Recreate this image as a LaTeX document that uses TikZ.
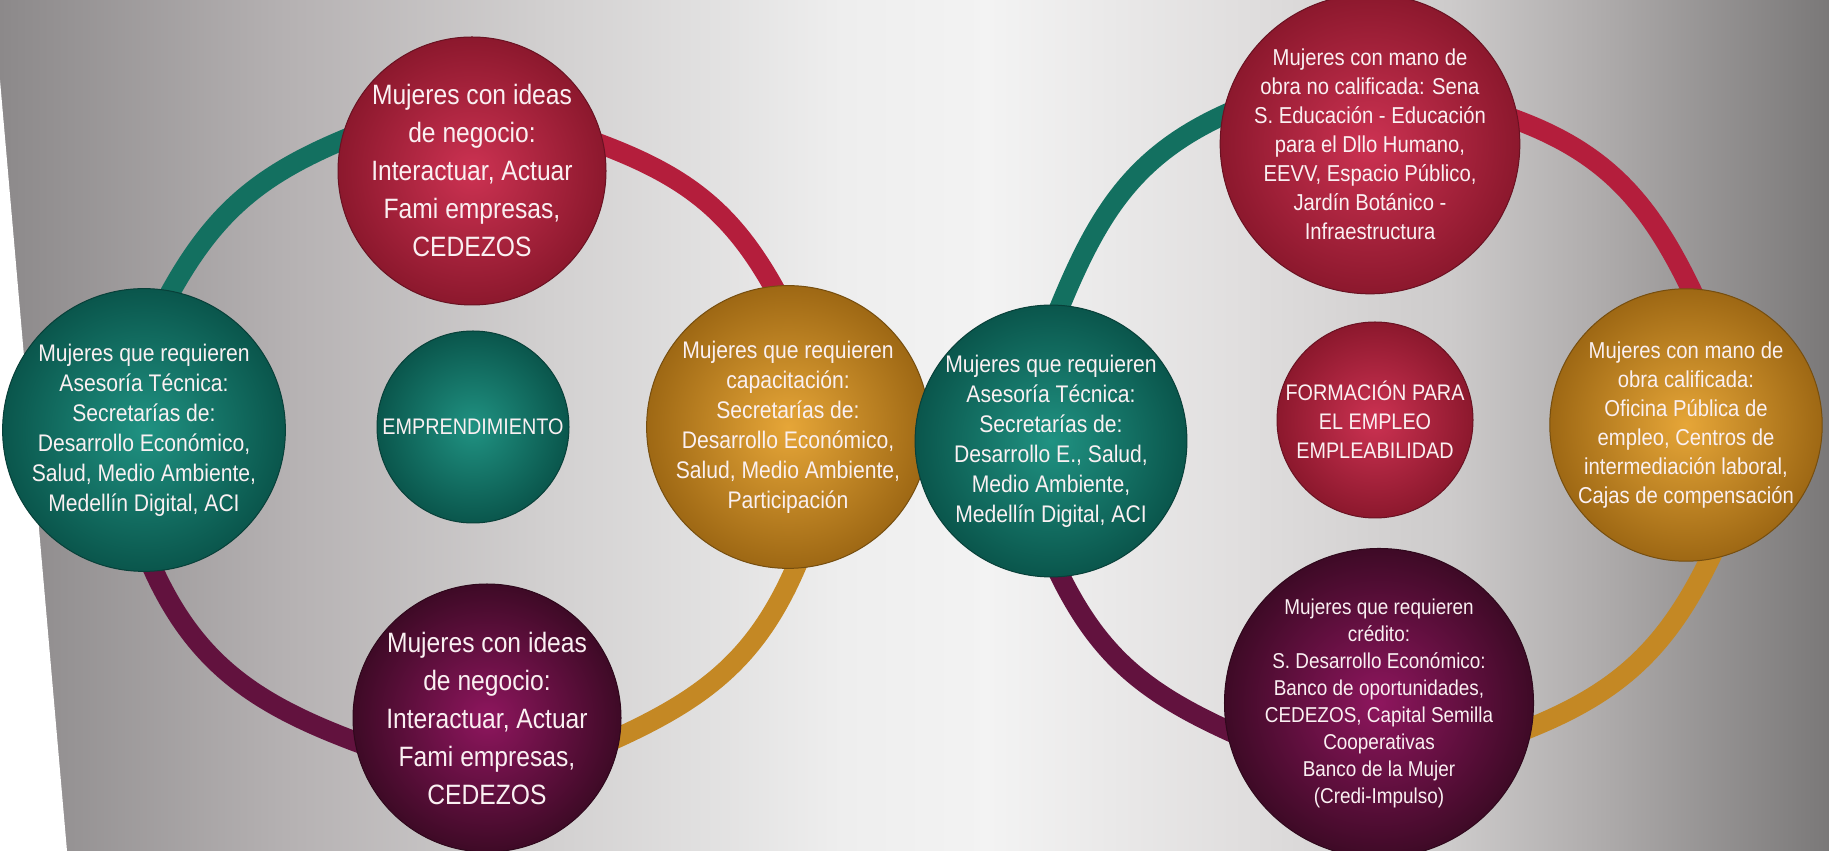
\documentclass[tikz,border=0pt]{standalone}
\usepackage{fontspec}
\newfontfamily\cnfont[FakeStretch=0.88]{Liberation Sans}
\usetikzlibrary{backgrounds}
\definecolor{redin}{RGB}{204,50,82}
\definecolor{redout}{RGB}{140,24,45}
\definecolor{tealin}{RGB}{32,146,130}
\definecolor{tealout}{RGB}{10,86,76}
\definecolor{goldin}{RGB}{230,166,56}
\definecolor{goldout}{RGB}{158,104,20}
\definecolor{plumin}{RGB}{142,22,94}
\definecolor{plumout}{RGB}{62,10,38}
\definecolor{tealring}{RGB}{19,112,96}
\definecolor{redring}{RGB}{180,30,60}
\definecolor{plumring}{RGB}{98,18,62}
\definecolor{goldring}{RGB}{196,136,36}
\definecolor{txt}{RGB}{250,240,242}
\definecolor{bgA}{RGB}{140,137,138}
\definecolor{bgB}{RGB}{182,178,179}
\definecolor{bgC}{RGB}{210,208,208}
\definecolor{bgD}{RGB}{238,238,238}
\definecolor{bgE}{RGB}{243,243,243}
\definecolor{bgF}{RGB}{224,222,222}
\definecolor{bgG}{RGB}{205,203,203}
\definecolor{bgH}{RGB}{175,172,172}
\definecolor{bgI}{RGB}{122,120,120}
\pgfdeclarehorizontalshading{wall}{100bp}{color(0bp)=(bgA); color(25bp)=(bgA); color(33bp)=(bgB); color(40bp)=(bgC); color(48bp)=(bgD); color(52bp)=(bgE); color(59bp)=(bgF); color(64.6bp)=(bgG); color(68.7bp)=(bgH); color(75bp)=(bgI); color(100bp)=(bgI)}
\tikzset{
  bubble/.style={circle, inner sep=0pt, align=center, text=txt, line width=1pt},
  redball/.style={bubble, inner color=redin, outer color=redout, draw=redout!75!black},
  tealball/.style={bubble, inner color=tealin, outer color=tealout, draw=tealout!75!black},
  goldball/.style={bubble, inner color=goldin, outer color=goldout, draw=goldout!75!black},
  plumball/.style={bubble, inner color=plumin, outer color=plumout, draw=plumout!75!black},
  big/.style={font=\cnfont\fontsize{28}{38}\selectfont},
  mid/.style={font=\cnfont\fontsize{24}{30}\selectfont},
  midsm/.style={font=\cnfont\fontsize{23}{29}\selectfont},
  small/.style={font=\cnfont\fontsize{21.5}{27}\selectfont},
  hub/.style={font=\cnfont\fontsize{22.5}{29}\selectfont},
  ring/.style={line width=20pt, shorten <=-14pt, shorten >=-14pt},
}

\begin{document}
\begin{tikzpicture}[x=1pt, y=1pt]
\useasboundingbox (0,0) rectangle (1829,851);
\begin{scope}[on background layer]
  \fill[shading=wall] (0,0) rectangle (1829,851);
  \fill[white] (0,771) -- (67,0) -- (0,0) -- cycle;
\end{scope}

\node[redball, big, minimum size=268pt] (ideas) at (472,680) {Mujeres con ideas\\de negocio:\\Interactuar, Actuar\\Fami empresas,\\CEDEZOS};
\node[tealball, mid, minimum size=270pt] (asesoria) at (144,421) {Mujeres que requieren\\Asesoría Técnica:\\Secretarías de:\\Desarrollo Económico,\\Salud, Medio Ambiente,\\Medellín Digital, ACI};
\node[tealball, hub, minimum size=192pt] (empr) at (473,424) {EMPRENDIMIENTO};
\node[goldball, mid, minimum size=262pt] (capac) at (788,424) {Mujeres que requieren\\capacitación:\\Secretarías de:\\Desarrollo Económico,\\Salud, Medio Ambiente,\\Participación};
\node[plumball, big, minimum size=268pt] (ideasb) at (487,133) {Mujeres con ideas\\de negocio:\\Interactuar, Actuar\\Fami empresas,\\CEDEZOS};

\node[redball, midsm, minimum size=272pt] (noCalif) at (1370,707) {Mujeres con mano de\\obra no calificada: Sena\\S. Educación - Educación\\para el Dllo Humano,\\EEVV, Espacio Público,\\Jardín Botánico -\\Infraestructura};
\node[tealball, mid, minimum size=268pt] (asesoriaR) at (1051,410) {Mujeres que requieren\\Asesoría Técnica:\\Secretarías de:\\Desarrollo E., Salud,\\Medio Ambiente,\\Medellín Digital, ACI};
\node[redball, hub, minimum size=196pt] (formacion) at (1375,431) {FORMACIÓN PARA\\EL EMPLEO\\EMPLEABILIDAD};
\node[goldball, midsm, minimum size=266pt] (calif) at (1686,426) {Mujeres con mano de\\obra calificada:\\Oficina Pública de\\empleo, Centros de\\intermediación laboral,\\Cajas de compensación};
\node[plumball, small, minimum size=266pt] (credito) at (1379,148) {Mujeres que requieren\\crédito:\\S. Desarrollo Económico:\\Banco de oportunidades,\\CEDEZOS, Capital Semilla\\Cooperativas\\Banco de la Mujer\\(Credi-Impulso)};

\begin{scope}[on background layer]
  \draw[ring, tealring] (ideas.167) to[out=202, in=62] (asesoria.79);
  \draw[ring, redring] (ideas.11) to[out=-20, in=118] (capac.96);
  \draw[ring, plumring] (asesoria.274) to[out=-67, in=160] (ideasb.190);
  \draw[ring, goldring] (capac.273) to[out=248, in=24] (ideasb.-8);
  \draw[ring, tealring] (noCalif.169) to[out=203, in=68] (asesoriaR.86);
  \draw[ring, redring] (noCalif.9) to[out=-19, in=115] (calif.88);
  \draw[ring, plumring] (asesoriaR.274) to[out=-65, in=156] (credito.190);
  \draw[ring, goldring] (calif.280) to[out=245, in=21] (credito.-9);
\end{scope}
\end{tikzpicture}
\end{document}
